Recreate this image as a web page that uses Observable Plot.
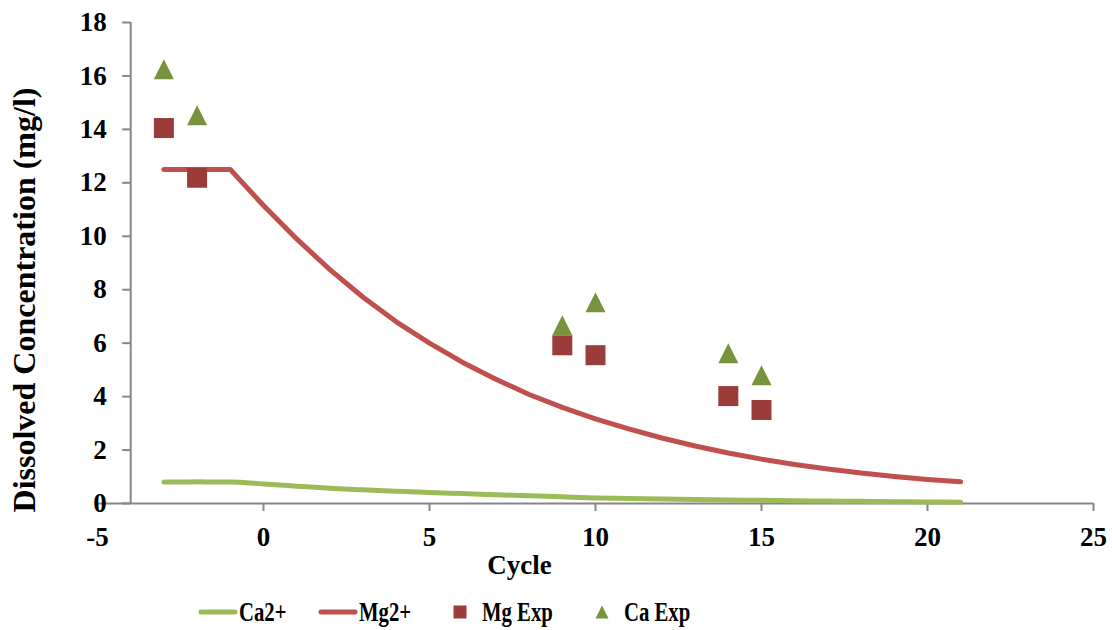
<!DOCTYPE html>
<html>
<head>
<meta charset="utf-8">
<script src="https://cdn.jsdelivr.net/npm/d3@7"></script>
<script src="https://cdn.jsdelivr.net/npm/@observablehq/plot@0.6"></script>
<style>
  html, body { margin: 0; padding: 0; background: #fff; }
  #wrap { position: relative; width: 1112px; height: 630px; font-family: "Liberation Serif", "Times New Roman", serif; font-weight: bold; }
  #legend { position: absolute; left: 0; top: 587px; width: 1112px; height: 50px; }
  .item { position: absolute; top: 0; height: 50px; display: flex; align-items: center; }
  .lbl { font-size: 28px; display: inline-block; transform: scaleX(0.74); transform-origin: left center; color: #000; }
</style>
</head>
<body>
<div id="wrap">
  <div id="chart"></div>
  <div id="legend"></div>
</div>
<script>
// ---- data ----
const cycles = [-3,-2,-1,0,1,2,3,4,5,6,7,8,9,10,11,12,13,14,15,16,17,18,19,20,21];
const mgModel = [12.5,12.5,12.5,11.15,9.9,8.75,7.72,6.8,6.0,5.28,4.65,4.08,3.6,3.17,2.79,2.45,2.15,1.89,1.66,1.46,1.29,1.14,1.01,0.9,0.81];
const caModel = [0.8,0.81,0.8,0.73,0.65,0.57,0.51,0.46,0.41,0.37,0.33,0.29,0.25,0.21,0.19,0.17,0.15,0.13,0.12,0.1,0.09,0.08,0.07,0.06,0.05];
const expCycles = [-3,-2,9,10,14,15];
const mgExp = [14.05,12.19,5.92,5.55,4.02,3.50];
const caExp = [16.25,14.53,6.67,7.53,5.62,4.80];
const xTicks = [-5,0,5,10,15,20,25];
const yTicks = [0,2,4,6,8,10,12,14,16,18];
const yAxisAt = -4;
const seriesNames = ["Ca2+","Mg2+","Mg Exp","Ca Exp"];
const colors = {ca: "#9BBB59", mg: "#C0504D", mgExp: "#993C3A", caExp: "#77933C"};

const modelRows = cycles.map((c, i) => ({cycle: c, mg: mgModel[i], ca: caModel[i]}));
const expRows = expCycles.map((c, i) => ({cycle: c, mg: mgExp[i], ca: caExp[i]}));

// triangle symbol with equal width and height, centred on its bounding box
const boxTriangle = {
  draw(context, size) {
    const s = Math.sqrt(size);
    context.moveTo(0, -s / 2);
    context.lineTo(s / 2, s / 2);
    context.lineTo(-s / 2, s / 2);
    context.closePath();
  }
};

const W = 1112, H = 587, mL = 97, mR = 19, mT = 22, mB = 84;
const xDomain = [-5, 25];
const axisDx = (W - mL - mR) * (yAxisAt - xDomain[0]) / (xDomain[1] - xDomain[0]);
const axisColor = "#868686";
const markerR = 20 / Math.sqrt(Math.PI);

const chart = Plot.plot({
  width: W, height: H,
  marginLeft: mL, marginRight: mR, marginTop: mT, marginBottom: mB,
  x: {domain: xDomain},
  y: {domain: [0, 18]},
  style: {fontFamily: "Liberation Serif, Times New Roman, serif", fontWeight: "bold", fontSize: "27px", color: "#000", background: "#fff", overflow: "visible"},
  marks: [
    Plot.ruleY([0], {stroke: axisColor, strokeWidth: 2}),
    Plot.ruleX([yAxisAt], {y1: 0, y2: 18, stroke: axisColor, strokeWidth: 2}),
    Plot.axisX({ticks: xTicks, tickSize: 8, tickPadding: 15, stroke: axisColor, strokeWidth: 2, fill: "#000", label: null, tickFormat: d => String(d)}),
    Plot.axisY({ticks: yTicks, dx: axisDx, tickSize: 8, tickPadding: 16, stroke: axisColor, strokeWidth: 2, fill: "#000", label: null, tickFormat: d => String(d)}),
    Plot.text(["Cycle"], {frameAnchor: "bottom", dx: -76, dy: 70, fontSize: 27, fill: "#000"}),
    Plot.text(["Dissolved Concentration (mg/l)"], {frameAnchor: "left", textAnchor: "middle", rotate: -90, dx: -73, dy: 37, fontSize: 32, fill: "#000"}),
    Plot.line(modelRows, {x: "cycle", y: "ca", stroke: colors.ca, strokeWidth: 5, strokeLinecap: "round", strokeLinejoin: "round", curve: "monotone-x"}),
    Plot.line(modelRows, {x: "cycle", y: "mg", stroke: colors.mg, strokeWidth: 5, strokeLinecap: "round", strokeLinejoin: "round", curve: "linear"}),
    Plot.dot(expRows, {x: "cycle", y: "mg", symbol: "square", r: markerR, fill: colors.mgExp, stroke: "none"}),
    Plot.dot(expRows, {x: "cycle", y: "ca", symbol: boxTriangle, r: markerR, fill: colors.caExp, stroke: "none"})
  ]
});
document.getElementById("chart").appendChild(chart);

// ---- legend ----
const legend = document.getElementById("legend");
const legendItems = [
  {name: seriesNames[0], kind: "line", color: colors.ca, left: 198},
  {name: seriesNames[1], kind: "line", color: colors.mg, left: 318},
  {name: seriesNames[2], kind: "square", color: colors.mgExp, left: 453},
  {name: seriesNames[3], kind: "triangle", color: colors.caExp, left: 595}
];
for (const it of legendItems) {
  const div = document.createElement("div");
  div.className = "item";
  div.style.left = it.left + "px";
  let sw;
  if (it.kind === "line") {
    sw = `<svg width="40" height="10" style="margin-right:1px"><line x1="3" y1="5" x2="37" y2="5" stroke="${it.color}" stroke-width="5" stroke-linecap="round"/></svg>`;
  } else if (it.kind === "square") {
    sw = `<svg width="14" height="14" style="margin-right:15px"><rect x="0.5" y="0.5" width="13" height="13" fill="${it.color}"/></svg>`;
  } else {
    sw = `<svg width="14" height="14" style="margin-right:15px"><path d="M7,0.5L13.5,13.5L0.5,13.5Z" fill="${it.color}"/></svg>`;
  }
  div.innerHTML = sw + `<span class="lbl">${it.name}</span>`;
  legend.appendChild(div);
}
</script>
</body>
</html>
